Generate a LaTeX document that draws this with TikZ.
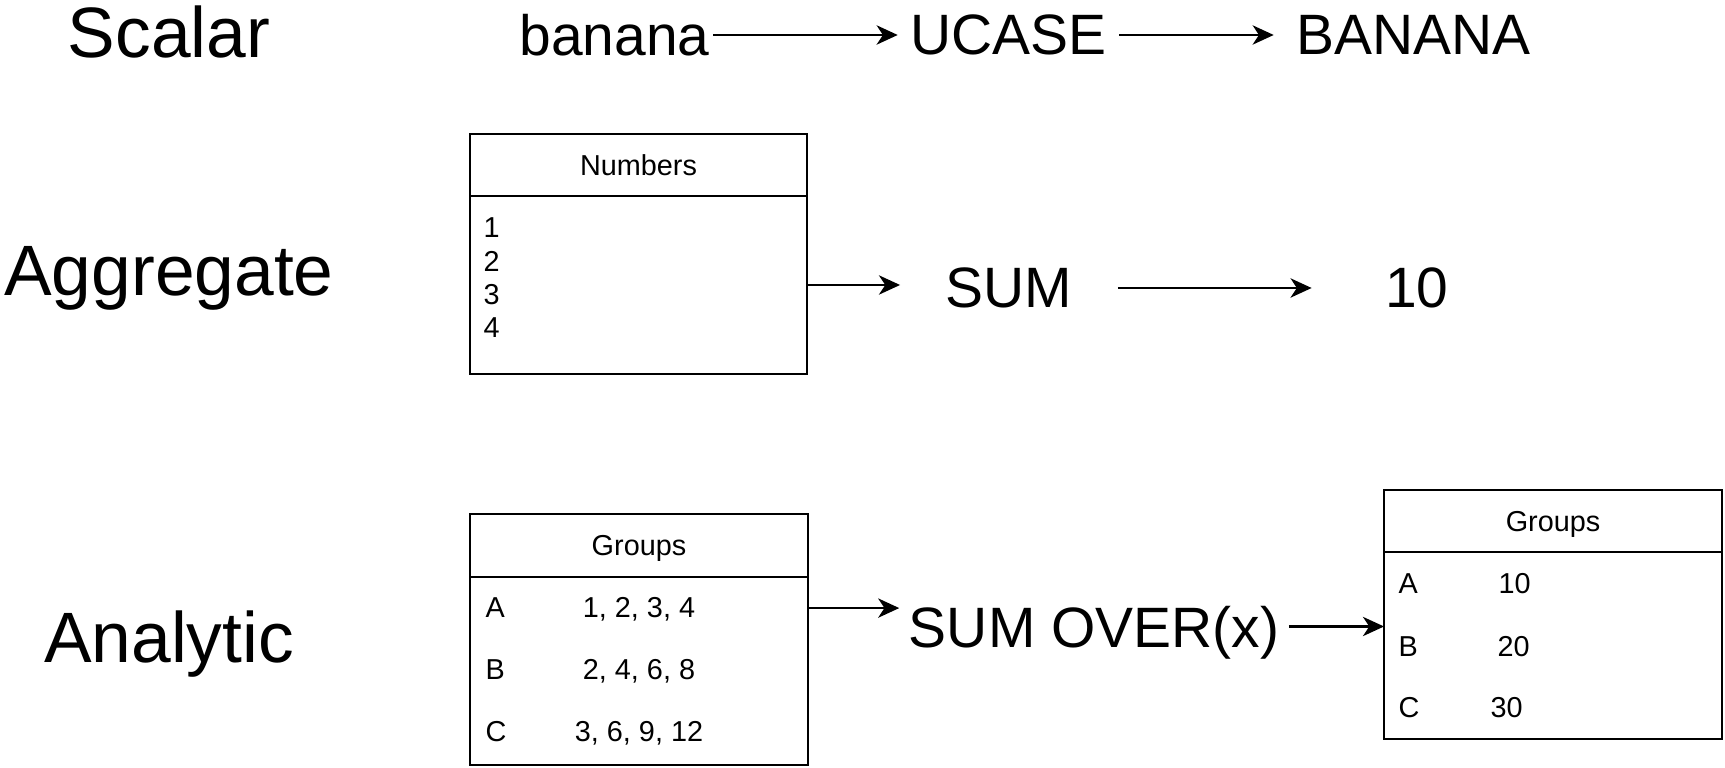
\documentclass[tikz,border=0pt]{standalone}
\usepackage{fontspec}
\setmainfont{Liberation Sans}
\usepackage{tikz}
\usetikzlibrary{arrows.meta, positioning, calc}
\newcommand{\kindfont}{\fontsize{20.3}{24}\selectfont}
\newcommand{\wordfont}{\fontsize{16.2}{19}\selectfont}
\newcommand{\tabfont}{\fontsize{8.2}{10}\selectfont}

\begin{document}
\begin{tikzpicture}[
    kind/.style={font=\kindfont, text depth=0pt, inner sep=0pt},
    word/.style={font=\wordfont, text depth=0pt, inner ysep=0pt, inner xsep=1.2mm},
    tabhead/.style={rectangle, draw, line width=0.75pt, outer sep=0pt, font=\tabfont, text depth=0pt},
    tabbody/.style={rectangle, draw, line width=0.75pt, outer sep=0pt},
    cell/.style={font=\tabfont, text depth=0pt, inner sep=0pt},
    arr/.style={-{Stealth[length=6pt, width=5.5pt, inset=1.8pt]}, line width=0.6pt}
]
    \useasboundingbox (0, 0) rectangle (17.25, 7.68);

    % Scalar
    \node[kind] (scalar) at (1.69, 7.36) {Scalar};
    \node[word, inner xsep=0.3mm] (banana) at (6.145, 7.33) {banana};
    \node[word] (ucase) at (10.085, 7.33) {UCASE};
    \node[word, inner xsep=2.2mm] (upper) at (14.135, 7.33) {BANANA};
    \draw[arr] (banana) -- (ucase);
    \draw[arr] (ucase) -- (upper);

    % Aggregate
    \node[kind] (aggregate) at (1.69, 4.97) {Aggregate};
    \node[tabhead, minimum width=3.37cm, minimum height=0.62cm] (numhead) at (6.385, 6.03) {Numbers};
    \node[tabbody, minimum width=3.37cm, minimum height=1.78cm, below=0pt of numhead] (numbody) {};
    \node[cell, anchor=base west] (n1) at (4.83, 5.30) {1};
    \node[cell, anchor=base west] (n2) at (4.83, 4.96) {2};
    \node[cell, anchor=base west] (n3) at (4.83, 4.63) {3};
    \node[cell, anchor=base west] (n4) at (4.83, 4.30) {4};
    \node[word, inner xsep=4.5mm] (sum) at (10.09, 4.80) {SUM};
    \node[word, inner xsep=7.3mm] (ten) at (14.17, 4.80) {10};
    \draw[arr] (numbody.east) -- (numbody.east -| sum.west);
    \draw[arr] (sum) -- (ten);

    % Analytic
    \node[kind] (analytic) at (1.69, 1.31) {Analytic};
    \node[tabhead, minimum width=3.38cm, minimum height=0.63cm] (lghead) at (6.39, 2.225) {Groups};
    \node[tabbody, minimum width=3.38cm, minimum height=1.88cm, below=0pt of lghead] (lgbody) {};
    \node[cell, anchor=base west] (ga) at (4.85, 1.50) {A};
    \node[cell, anchor=base west] (gb) at (4.85, 0.88) {B};
    \node[cell, anchor=base west] (gc) at (4.85, 0.26) {C};
    \node[cell, anchor=base] (gva) at (6.39, 1.50) {1, 2, 3, 4};
    \node[cell, anchor=base] (gvb) at (6.39, 0.88) {2, 4, 6, 8};
    \node[cell, anchor=base] (gvc) at (6.39, 0.26) {3, 6, 9, 12};
    \node[word, inner xsep=0.9mm] (sumover) at (10.94, 1.415) {SUM OVER(x)};
    \draw[arr] (lgbody.east |- ga) -- (ga -| sumover.west);

    \node[tabhead, minimum width=3.38cm, minimum height=0.62cm] (rghead) at (15.53, 2.47) {Groups};
    \node[tabbody, minimum width=3.38cm, minimum height=1.87cm, below=0pt of rghead] (rgbody) {};
    \node[cell, anchor=base west] (ra) at (13.98, 1.74) {A};
    \node[cell, anchor=base west] (rb) at (13.98, 1.11) {B};
    \node[cell, anchor=base west] (rc) at (13.98, 0.50) {C};
    \node[cell, anchor=base west] (rva) at (14.98, 1.74) {10};
    \node[cell, anchor=base west] (rvb) at (14.97, 1.11) {20};
    \node[cell, anchor=base west] (rvc) at (14.90, 0.50) {30};
    \draw[arr] (sumover) -- (sumover -| rgbody.west);
\end{tikzpicture}
\end{document}
